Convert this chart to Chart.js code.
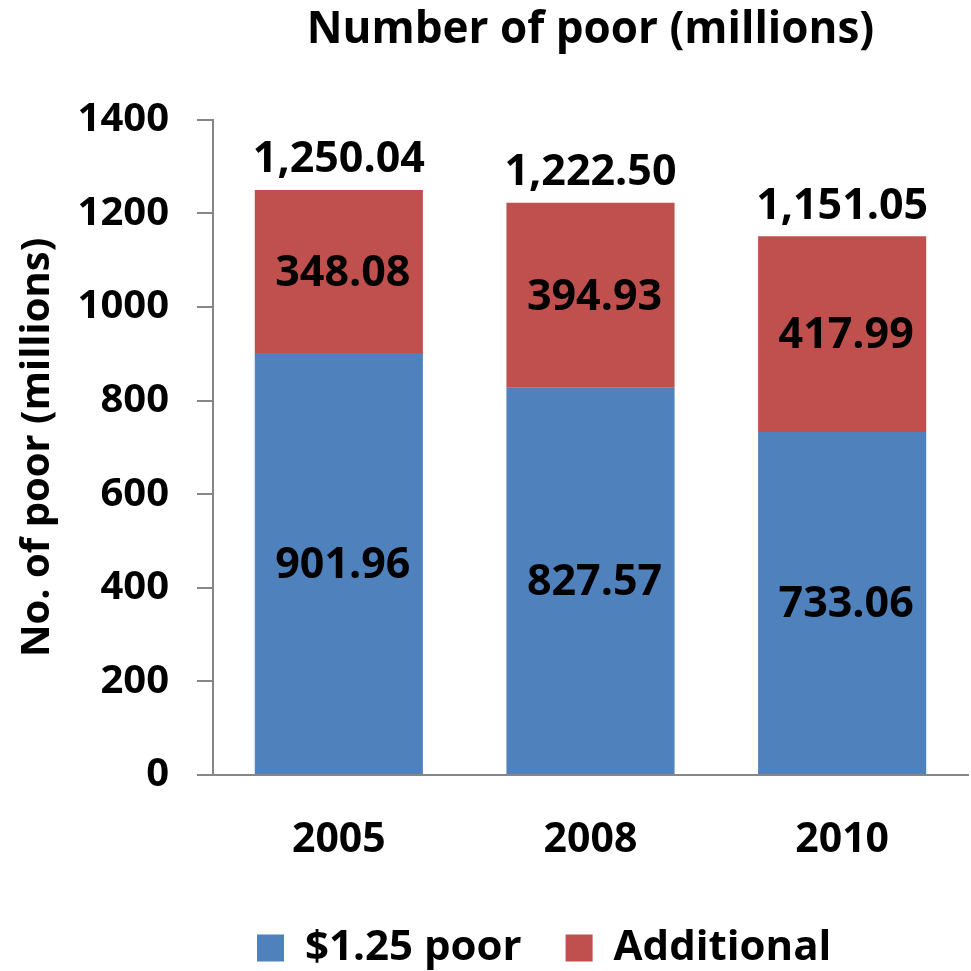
<!DOCTYPE html>
<html>
<head>
<meta charset="utf-8">
<script src="https://cdn.jsdelivr.net/npm/chart.js@4"></script>
<style>
  html, body { margin: 0; background: #fff; }
  #wrap { width: 971px; height: 971px; }
</style>
</head>
<body>
<div id="wrap"><canvas id="poorChart"></canvas></div>
<script>
// Number of poor, millions
const years = ['2005', '2008', '2010'];
const poor125 = [901.96, 827.57, 733.06];
const additional = [348.08, 394.93, 417.99];
const totalLabels = ['1,250.04', '1,222.50', '1,151.05'];
const yMin = 0, yMax = 1400, yStep = 200;

const FONT = "'Open Sans', sans-serif";

// value labels inside the segments and totals on top
const valueLabels = {
  id: 'valueLabels',
  afterDatasetsDraw(chart) {
    const ctx = chart.ctx;
    ctx.save();
    ctx.fillStyle = '#000';
    ctx.font = 'bold 43px ' + FONT;
    ctx.textAlign = 'center';
    ctx.textBaseline = 'middle';
    chart.data.datasets.forEach((ds, i) => {
      const meta = chart.getDatasetMeta(i);
      meta.data.forEach((bar, j) => {
        ctx.fillText(ds.data[j].toFixed(2), bar.x + 4, (bar.y + bar.base) / 2 + 2);
      });
    });
    const top = chart.getDatasetMeta(chart.data.datasets.length - 1);
    top.data.forEach((bar, j) => {
      ctx.fillText(totalLabels[j], bar.x, bar.y - 30);
    });
    ctx.restore();
  }
};

new Chart(document.getElementById('poorChart'), {
  type: 'bar',
  data: {
    labels: years,
    datasets: [
      { label: '$1.25 poor', data: poor125, backgroundColor: '#4F81BD', borderWidth: 0 },
      { label: 'Additional', data: additional, backgroundColor: '#C0504D', borderWidth: 0 }
    ]
  },
  options: {
    responsive: true,
    maintainAspectRatio: false,
    animation: false,
    datasets: { bar: { categoryPercentage: 1, barPercentage: 0.668 } },
    layout: { padding: { left: 10, right: 3, top: 0, bottom: -8 } },
    plugins: {
      title: {
        display: true,
        fullSize: false,
        text: 'Number of poor (millions)',
        color: '#000',
        font: { family: FONT, size: 44, weight: 'bold' },
        padding: { top: 4, bottom: 63 }
      },
      legend: {
        position: 'bottom',
        fullSize: false,
        align: 'start',
        labels: {
          color: '#000',
          font: { family: FONT, size: 42, weight: 'bold' },
          boxWidth: 27,
          boxHeight: 27,
          padding: 44
        }
      },
      tooltip: { enabled: false }
    },
    scales: {
      x: {
        stacked: true,
        grid: { display: false },
        border: { color: '#868686', width: 2 },
        ticks: { color: '#000', padding: 33, font: { family: FONT, size: 41, weight: 'bold' } },
        afterFit(s) { s.height = 108; }
      },
      y: {
        stacked: true,
        min: yMin,
        max: yMax,
        grid: { drawOnChartArea: false, tickLength: 16, color: '#868686', lineWidth: 2 },
        border: { color: '#868686', width: 2 },
        ticks: {
          stepSize: yStep,
          color: '#000',
          padding: 28,
          font: { family: FONT, size: 40, weight: 'bold' },
          callback: v => String(v)
        },
        title: {
          display: true,
          text: 'No. of poor (millions)',
          color: '#000',
          font: { family: FONT, size: 40, weight: 'bold' },
          padding: { top: 4, bottom: 0 }
        },
        afterFit(s) { s.width = 203; }
      }
    }
  },
  plugins: [valueLabels]
});
</script>
</body>
</html>
